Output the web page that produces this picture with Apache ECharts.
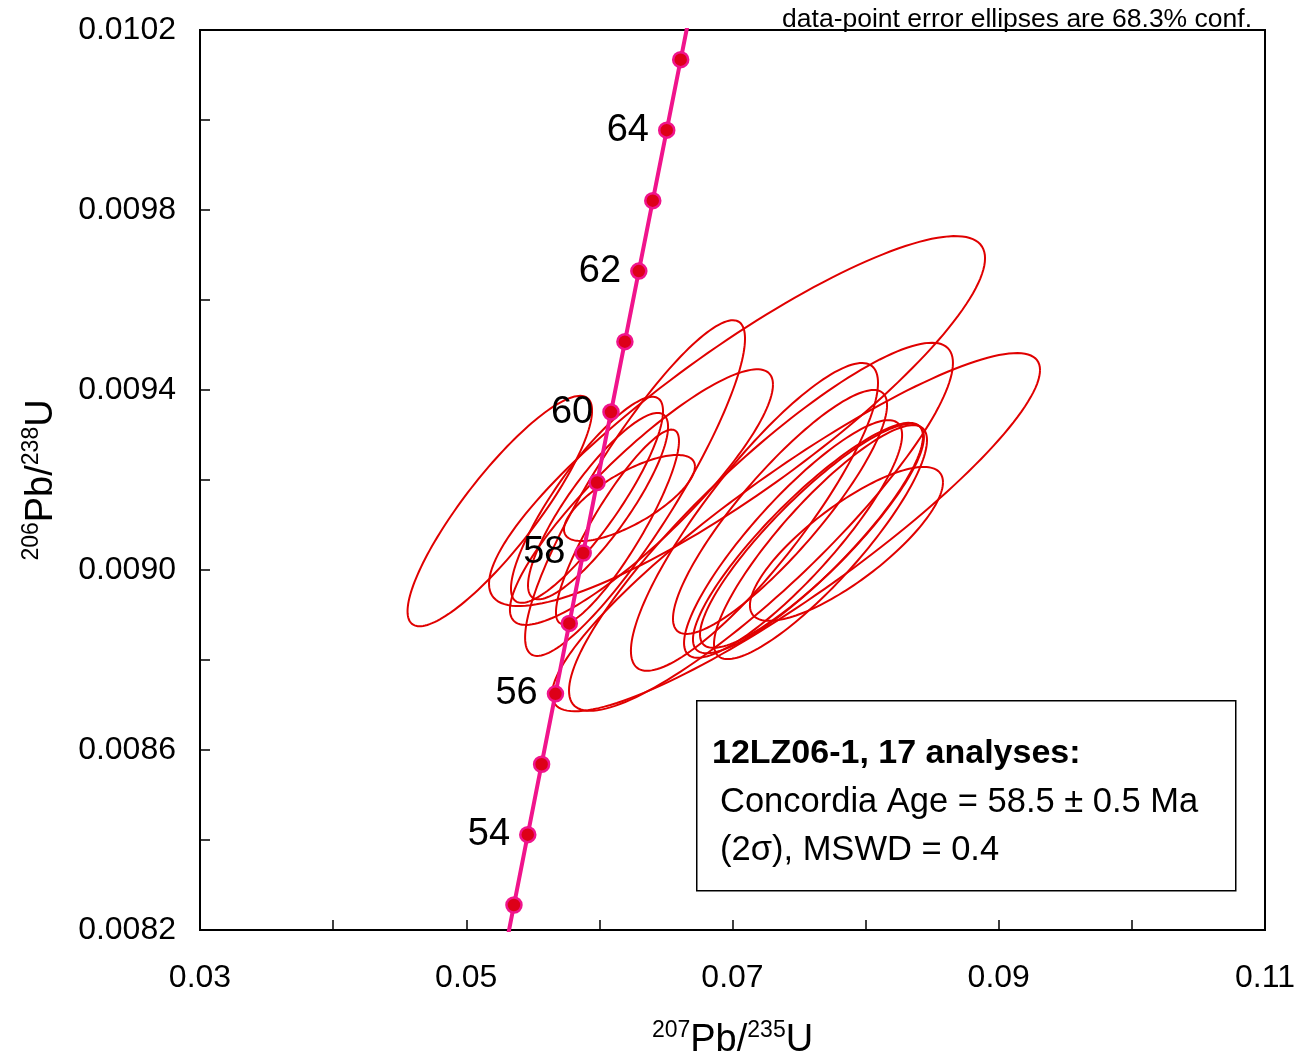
<!DOCTYPE html>
<html lang="en">
<head>
    <meta charset="UTF-8">
    <title>Concordia</title>
    <script src="https://cdn.jsdelivr.net/npm/echarts@6.0.0/dist/echarts.min.js"></script>
    <style>
        body { margin: 0; background: #fff; }
    </style>
</head>
<body>
    <div id="main" style="width:1297px; height:1063px;"></div>
    <script>
        // concordia curve, one point per Ma
        var concAges = [52, 53, 54, 55, 56, 57, 58, 59, 60, 61, 62, 63, 64, 65, 66, 67];
        var concX = [0.0525462, 0.0535833, 0.0546215, 0.0556606, 0.0567008, 0.0577420, 0.0587842, 0.0598275,
                     0.0608718, 0.0619171, 0.0629634, 0.0640108, 0.0650592, 0.0661087, 0.0671591, 0.0682106];
        var concY = [0.0080991, 0.0082555, 0.0084119, 0.0085684, 0.0087248, 0.0088813, 0.0090378, 0.0091944,
                     0.0093510, 0.0095075, 0.0096642, 0.0098208, 0.0099775, 0.0101341, 0.0102908, 0.0104476];
        var markerAges = [53, 54, 55, 56, 57, 58, 59, 60, 61, 62, 63, 64, 65];
        var labelAges = [54, 56, 58, 60, 62, 64];

        // error ellipses: centre, half widths, correlation
        var ellCx = [0.05252, 0.07034, 0.06268, 0.06316, 0.05907, 0.05990, 0.06136, 0.06226, 0.07165,
                     0.07357, 0.07455, 0.07567, 0.07661, 0.07856, 0.07214, 0.07477, 0.07597];
        var ellCy = [0.009131, 0.009331, 0.009182, 0.009162, 0.009156, 0.009142, 0.009096, 0.009160, 0.009118,
                     0.009129, 0.009069, 0.009071, 0.009062, 0.009058, 0.009096, 0.009084, 0.009076];
        var ellSx = [0.00693, 0.01863, 0.00826, 0.00988, 0.00571, 0.00526, 0.00462, 0.00492, 0.00928,
                     0.00804, 0.00819, 0.00864, 0.00800, 0.00725, 0.01442, 0.01833, 0.00841];
        var ellSy = [0.000256, 0.000411, 0.000373, 0.000284, 0.000229, 0.000207, 0.000216, 0.0000956, 0.000342,
                     0.000271, 0.000264, 0.000256, 0.000260, 0.000171, 0.000409, 0.000398, 0.000249];
        var ellRho = [0.87, 0.88, 0.89, 0.88, 0.86, 0.85, 0.88, 0.73, 0.87,
                      0.875, 0.875, 0.88, 0.87, 0.80, 0.89, 0.905, 0.88];

        var font = "'Liberation Sans', Arial, sans-serif";

        var lineData = [];
        for (var i = 0; i < concAges.length; i++) {
            lineData.push([concX[i], concY[i]]);
        }
        var markerData = [];
        for (var i = 0; i < concAges.length; i++) {
            var age = concAges[i];
            if (markerAges.indexOf(age) < 0) continue;
            markerData.push({
                value: [concX[i], concY[i]],
                label: { show: labelAges.indexOf(age) >= 0, formatter: String(age) }
            });
        }
        var ellData = [];
        for (var i = 0; i < ellCx.length; i++) {
            ellData.push([ellCx[i], ellCy[i], ellSx[i], ellSy[i], ellRho[i]]);
        }

        function renderEllipse(params, api) {
            var cx = api.value(0), cy = api.value(1);
            var sx = api.value(2), sy = api.value(3), r = api.value(4);
            var pts = [];
            for (var k = 0; k <= 160; k++) {
                var t = k / 160 * 2 * Math.PI;
                pts.push(api.coord([cx + sx * Math.cos(t),
                    cy + sy * (r * Math.cos(t) + Math.sqrt(1 - r * r) * Math.sin(t))]));
            }
            return {
                type: 'polyline',
                shape: { points: pts },
                style: { fill: 'none', stroke: '#e00000', lineWidth: 2 }
            };
        }

        var titleRich = {
            n: { fontSize: 38, fontFamily: font, color: '#000', lineHeight: 44 },
            s: { fontSize: 23, fontFamily: font, color: '#000', verticalAlign: 'top', lineHeight: 26 }
        };

        var chart = echarts.init(document.getElementById('main'));
        var option = {
            animation: false,
            grid: {
                left: 200, top: 30, right: 32, bottom: 133,
                outerBoundsMode: 'none',
                show: true, borderColor: '#000', borderWidth: 2
            },
            xAxis: {
                type: 'value', min: 0.03, max: 0.11, interval: 0.01,
                name: '{s|207}{n|Pb/}{s|235}{n|U}',
                nameLocation: 'middle', nameGap: 89,
                nameTextStyle: { rich: titleRich },
                axisLine: { lineStyle: { color: '#000', width: 2 } },
                axisTick: { inside: true, length: 10, lineStyle: { color: '#000', width: 1.5 } },
                splitLine: { show: false },
                axisLabel: {
                    margin: 32, fontSize: 32, color: '#000', fontFamily: font,
                    formatter: function (v) {
                        return Math.round(v * 100) % 2 === 1 ? v.toFixed(2) : '';
                    }
                }
            },
            yAxis: {
                type: 'value', min: 0.0082, max: 0.0102, interval: 0.0002,
                name: '{s|206}{n|Pb/}{s|238}{n|U}',
                nameLocation: 'middle', nameGap: 136, nameRotate: 90,
                nameTextStyle: { rich: titleRich },
                axisLine: { lineStyle: { color: '#000', width: 2 } },
                axisTick: { inside: true, length: 10, lineStyle: { color: '#000', width: 1.5 } },
                splitLine: { show: false },
                axisLabel: {
                    margin: 24, fontSize: 32, color: '#000', fontFamily: font,
                    formatter: function (v) {
                        return Math.round(v * 5000) % 2 === 1 ? v.toFixed(4) : '';
                    }
                }
            },
            series: [
                {
                    type: 'custom',
                    renderItem: renderEllipse,
                    data: ellData,
                    encode: { x: 0, y: 1 },
                    z: 2
                },
                {
                    type: 'line',
                    data: lineData,
                    showSymbol: false,
                    symbol: 'none',
                    clip: true,
                    lineStyle: { color: '#f0148c', width: 4 },
                    z: 3
                },
                {
                    type: 'scatter',
                    data: markerData,
                    symbolSize: 15,
                    itemStyle: { color: '#dd0018', borderColor: '#f0148c', borderWidth: 2.5, opacity: 1 },
                    label: {
                        position: 'left', distance: 9, fontSize: 38, color: '#000', fontFamily: font
                    },
                    z: 4
                }
            ],
            graphic: [
                {
                    type: 'text', right: 45, top: 6,
                    style: { text: 'data-point error ellipses are 68.3% conf.', fontSize: 26.5, fontFamily: font, fill: '#000' }
                },
                {
                    type: 'rect', left: 696, top: 700, z: 10,
                    shape: { width: 539, height: 190 },
                    style: { fill: '#fff', stroke: '#000', lineWidth: 1.5 }
                },
                {
                    type: 'text', left: 712, top: 737, z: 11,
                    style: { text: '12LZ06-1, 17 analyses:', fontSize: 34, fontWeight: 'bold', fontFamily: font, fill: '#000' }
                },
                {
                    type: 'text', left: 720, top: 785, z: 11,
                    style: { text: 'Concordia Age = 58.5 \u00b1 0.5 Ma', fontSize: 34.5, fontFamily: font, fill: '#000' }
                },
                {
                    type: 'text', left: 720, top: 833, z: 11,
                    style: { text: '(2\u03c3), MSWD = 0.4', fontSize: 34.5, fontFamily: font, fill: '#000' }
                }
            ]
        };
        chart.setOption(option);
    </script>
</body>
</html>
